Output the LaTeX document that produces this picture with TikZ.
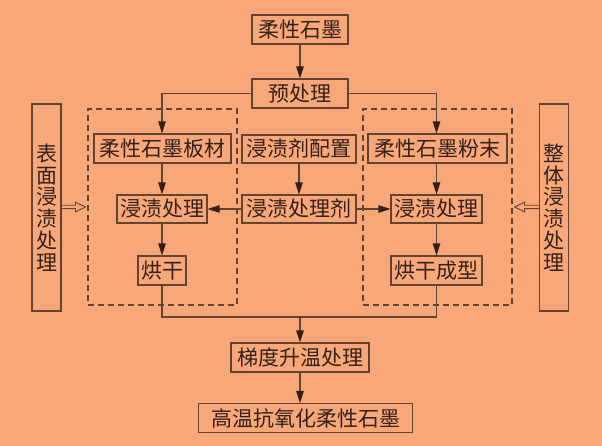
\documentclass[tikz,border=0pt]{standalone}
\usepackage{fontspec}
\setmainfont{Noto Sans CJK SC}
\usetikzlibrary{arrows.meta,calc}
\definecolor{bg}{HTML}{F8A878}
\definecolor{ln}{HTML}{654333}
\definecolor{tx}{HTML}{33201A}
\tikzset{
  box/.style={draw=ln, line width=1.1pt, inner sep=0pt, minimum height=29pt,
    text=tx, font=\fontsize{21}{21.7}\selectfont},
  tall/.style={box, minimum width=29pt, minimum height=207pt, align=center},
  dbox/.style={draw=ln, line width=1.1pt, dash pattern=on 6pt off 4pt, inner sep=0pt,
    minimum width=149pt, minimum height=196pt},
  conn/.style={draw=ln, line width=1.1pt},
  arr/.style={conn, -{Triangle[length=12pt,width=7.5pt,color=tx]}},
  hollow/.style={draw=ln, line width=0.9pt, line join=miter}
}
\begin{document}
\begin{tikzpicture}[x=1pt,y=-1pt]
\fill[bg] (0,0) rectangle (602,446);
\useasboundingbox (0,0) rectangle (602,446);
% dashed groups
\node[dbox] (dL) at (162.5,207) {};
\node[dbox] (dR) at (437.5,207) {};
% boxes
\node[box, minimum width=96pt] (top) at (300,29.5) {柔性石墨};
\node[box, minimum width=96pt] (pre) at (300,93.5) {预处理};
\node[box, minimum width=137pt] (board) at (162.5,148.5) {柔性石墨板材};
\node[box, minimum width=114pt, minimum height=28pt] (cfg) at (299,149) {浸渍剂配置};
\node[box, minimum width=139pt] (powder) at (437.5,148.5) {柔性石墨粉末};
\node[box, minimum width=90pt, minimum height=28pt] (impL) at (162,209) {浸渍处理};
\node[box, minimum width=114pt, minimum height=28pt] (agent) at (299,209) {浸渍处理剂};
\node[box, minimum width=91pt, minimum height=28pt] (impR) at (436.5,209) {浸渍处理};
\node[box, minimum width=48pt] (dryL) at (162,270.5) {烘干};
\node[box, minimum width=91pt] (dryR) at (436.5,270.5) {烘干成型};
\node[box, minimum width=138pt] (grad) at (300,357.5) {梯度升温处理};
\node[box, minimum width=214pt] (final) at (305.5,418) {高温抗氧化柔性石墨};
\node[tall] (Lt) at (46.5,207.5) {表\\面\\浸\\渍\\处\\理};
\node[tall] (Rt) at (554,207.5) {整\\体\\浸\\渍\\处\\理};
% connectors
\draw[arr] (top) -- (pre);
\draw[arr] (pre.west) -| (impL.center |- board.north);
\draw[arr] (pre.east) -| (impR.center |- powder.north);
\draw[arr] (impL.center |- board.south) -- (impL.north);
\draw[arr] (cfg) -- (agent);
\draw[arr] (impR.center |- powder.south) -- (impR.north);
\draw[arr] (agent) -- (impL);
\draw[arr] (agent) -- (impR);
\draw[arr] (impL) -- (dryL);
\draw[arr] (impR) -- (dryR);
\coordinate (mj) at (300,317);
\draw[conn] (dryL.south) |- (mj) -| (dryR.south);
\draw[arr] (mj) -- (grad.north);
\draw[arr] (grad.south) -- (grad.south |- final.north);
% hollow arrows
\draw[hollow] ($(Lt.east |- dL.west)+(0,-1.7)$) -- ($(dL.west)+(-12,-1.7)$) -- ($(dL.west)+(-12,-4.8)$)
  -- ($(dL.west)+(-2,0)$) -- ($(dL.west)+(-12,4.8)$) -- ($(dL.west)+(-12,1.7)$) -- ($(Lt.east |- dL.west)+(0,1.7)$);
\draw[hollow] ($(Rt.west |- dR.east)+(0,-1.7)$) -- ($(dR.east)+(12,-1.7)$) -- ($(dR.east)+(12,-4.8)$)
  -- ($(dR.east)+(2,0)$) -- ($(dR.east)+(12,4.8)$) -- ($(dR.east)+(12,1.7)$) -- ($(Rt.west |- dR.east)+(0,1.7)$);
\end{tikzpicture}
\end{document}
